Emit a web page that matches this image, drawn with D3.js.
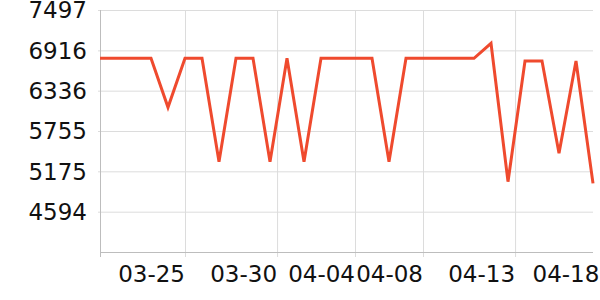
<!DOCTYPE html>
<html>
<head>
<meta charset="utf-8">
<script src="https://cdn.jsdelivr.net/npm/d3@7"></script>
<style>
  body { margin: 0; background: #fff; }
  svg { display: block; font-family: "DejaVu Sans", sans-serif; }
  .grid line { stroke: #dcdcdc; stroke-width: 1; }
  .axis-line { stroke: #bdbdbd; stroke-width: 1; }
  .label { font-size: 23px; fill: #111; }
</style>
</head>
<body>
<svg id="chart" width="600" height="300"></svg>
<script>
// daily values, starting 03-20
var startDay = "2024-03-20";
var values = [
  6802, 6802, 6802, 6802, 6096, 6802, 6802, 5313, 6802, 6802,
  5313, 6802, 5313, 6802, 6802, 6802, 6802, 5313, 6802, 6802,
  6802, 6802, 6802, 7018, 5026, 6763, 6763, 5434, 6763, 5002
];
var yTicks = [4594, 5175, 5755, 6336, 6916, 7497];
var yMin = 4013.6, yMax = 7497;
var xTicks = [
  "2024-03-25T00:00", "2024-03-30T10:00", "2024-04-04T00:00",
  "2024-04-08T00:00", "2024-04-13T10:00", "2024-04-18T09:00"
];

var margin = {left: 100, right: 7, top: 10, bottom: 48};
var width = 600, height = 300;
var svg = d3.select("#chart");

var t0 = new Date(startDay + "T00:00Z");
var points = values.map(function(v, i){
  return {date: d3.utcDay.offset(t0, i), value: v};
});
var tickDates = xTicks.map(function(s){ return new Date(s + "Z"); });

var x = d3.scaleUtc()
  .domain([points[0].date, points[points.length - 1].date])
  .range([margin.left, width - margin.right]);
var y = d3.scaleLinear()
  .domain([yMin, yMax])
  .range([height - margin.bottom, margin.top]);

var x0 = x.range()[0], x1 = x.range()[1];
var yB = y.range()[0], yT = y.range()[1];

// horizontal grid
var grid = svg.append("g").attr("class", "grid");
grid.selectAll("line.h")
  .data(yTicks)
  .enter().append("line")
  .attr("class", "h")
  .attr("x1", x0 - 2).attr("x2", x1)
  .attr("y1", function(d){ return y(d) + 0.5; })
  .attr("y2", function(d){ return y(d) + 0.5; });

// vertical grid (only inside the plot)
grid.selectAll("line.v")
  .data(tickDates.filter(function(d){ return x(d) <= x1; }))
  .enter().append("line")
  .attr("class", "v")
  .attr("x1", function(d){ return x(d) + 0.5; })
  .attr("x2", function(d){ return x(d) + 0.5; })
  .attr("y1", yT).attr("y2", yB + 5);

// axis lines
svg.append("line").attr("class", "axis-line")
  .attr("x1", x0 + 0.5).attr("x2", x0 + 0.5).attr("y1", yT).attr("y2", yB + 5);
svg.append("line").attr("class", "axis-line")
  .attr("x1", x0).attr("x2", x1).attr("y1", yB + 0.5).attr("y2", yB + 0.5);

// y labels
svg.selectAll("text.ylab")
  .data(yTicks)
  .enter().append("text")
  .attr("class", "label ylab")
  .attr("x", x0 - 13)
  .attr("y", function(d){ return y(d); })
  .attr("dy", "0.36em")
  .attr("text-anchor", "end")
  .text(function(d){ return d; });

// x labels, right-aligned to their tick
var fmt = d3.utcFormat("%m-%d");
svg.selectAll("text.xlab")
  .data(tickDates)
  .enter().append("text")
  .attr("class", "label xlab")
  .attr("x", function(d){ return x(d); })
  .attr("y", yB + 30)
  .attr("text-anchor", "end")
  .text(function(d){ return fmt(d); });

// line
var line = d3.line()
  .x(function(d){ return x(d.date); })
  .y(function(d){ return y(d.value); });

svg.append("path")
  .datum(points)
  .attr("fill", "none")
  .attr("stroke", "#ef4a2e")
  .attr("stroke-width", 3)
  .attr("stroke-linejoin", "miter")
  .attr("d", line);
</script>
</body>
</html>
